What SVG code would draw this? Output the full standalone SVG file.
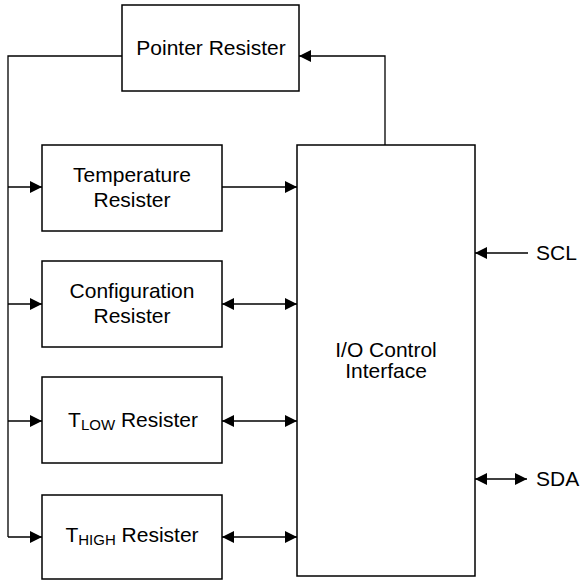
<svg xmlns="http://www.w3.org/2000/svg" width="581" height="581" viewBox="0 0 581 581">
<style>
.box{fill:#fff;stroke:#000;stroke-width:1.5}
.ln{fill:none;stroke:#000;stroke-width:1.3}
.t{font-family:"Liberation Sans",Arial,sans-serif;font-size:21px;fill:#000;text-anchor:middle}
.s{font-size:15px}
</style>
<defs>
<marker id="ah" markerUnits="userSpaceOnUse" markerWidth="12" markerHeight="12" viewBox="0 0 11 11" refX="11" refY="5.5" orient="auto-start-reverse">
<path d="M0,0 L11,5.5 L0,11 z" fill="#000"/>
</marker>
</defs>
<rect width="581" height="581" fill="#fff"/>
<g id="connectors">
<polyline class="ln" points="122,56 8,56 8,537"/>
<line class="ln" x1="8" y1="187" x2="42" y2="187" marker-end="url(#ah)"/>
<line class="ln" x1="8" y1="304" x2="42" y2="304" marker-end="url(#ah)"/>
<line class="ln" x1="8" y1="421" x2="42" y2="421" marker-end="url(#ah)"/>
<line class="ln" x1="8" y1="537" x2="42" y2="537" marker-end="url(#ah)"/>
<polyline class="ln" points="385,145 385,56 299,56" marker-end="url(#ah)"/>
<line class="ln" x1="222" y1="187" x2="297" y2="187" marker-end="url(#ah)"/>
<line class="ln" x1="222" y1="304" x2="297" y2="304" marker-start="url(#ah)" marker-end="url(#ah)"/>
<line class="ln" x1="222" y1="421" x2="297" y2="421" marker-start="url(#ah)" marker-end="url(#ah)"/>
<line class="ln" x1="222" y1="537" x2="297" y2="537" marker-start="url(#ah)" marker-end="url(#ah)"/>
<line class="ln" x1="528" y1="253" x2="475" y2="253" marker-end="url(#ah)"/>
<line class="ln" x1="475" y1="479" x2="527" y2="479" marker-start="url(#ah)" marker-end="url(#ah)"/>
</g>
<g id="pointer">
<rect class="box" x="122" y="5" width="177" height="86"/>
<text class="t" x="211" y="55">Pointer Resister</text>
</g>
<g id="temperature">
<rect class="box" x="42" y="145" width="180" height="86"/>
<text class="t" x="132" y="182">Temperature</text>
<text class="t" x="132" y="207">Resister</text>
</g>
<g id="configuration">
<rect class="box" x="42" y="261" width="180" height="86"/>
<text class="t" x="132" y="298">Configuration</text>
<text class="t" x="132" y="323">Resister</text>
</g>
<g id="tlow">
<rect class="box" x="42" y="377" width="180" height="86"/>
<text class="t" x="133" y="427">T<tspan class="s" dy="3">LOW</tspan><tspan dy="-3"> Resister</tspan></text>
</g>
<g id="thigh">
<rect class="box" x="42" y="495" width="180" height="84"/>
<text class="t" x="132" y="542">T<tspan class="s" dy="3">HIGH</tspan><tspan dy="-3"> Resister</tspan></text>
</g>
<g id="io">
<rect class="box" x="297" y="145" width="178" height="431"/>
<text class="t" x="386" y="357">I/O Control</text>
<text class="t" x="386" y="378">Interface</text>
</g>
<g id="scl"><text class="t" x="536" y="260" style="text-anchor:start">SCL</text></g>
<g id="sda"><text class="t" x="536" y="486" style="text-anchor:start">SDA</text></g>
</svg>
